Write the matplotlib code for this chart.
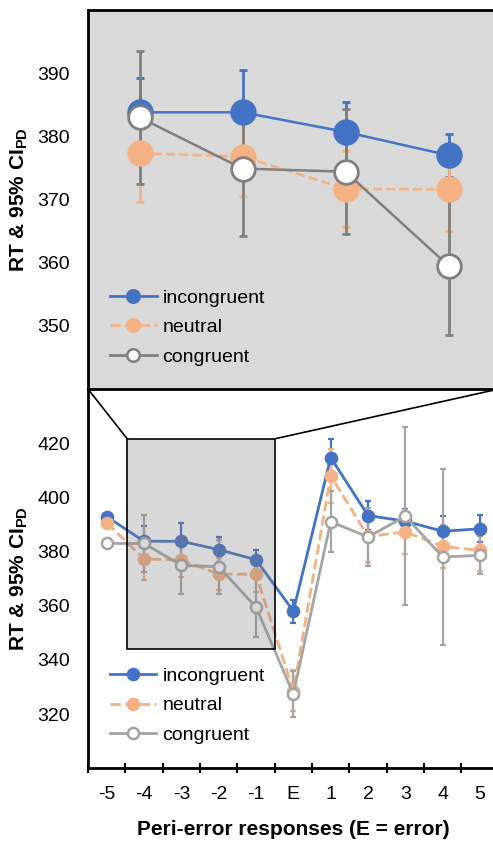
import matplotlib
matplotlib.use('Agg')
import matplotlib.pyplot as plt
from matplotlib.patches import Rectangle
from matplotlib.lines import Line2D
import numpy as np

plt.rcParams['font.family'] = ['Liberation Sans', 'DejaVu Sans']
plt.rcParams['mathtext.fontset'] = 'custom'
plt.rcParams['mathtext.rm'] = 'Liberation Sans'
plt.rcParams['mathtext.bf'] = 'Liberation Sans:bold'

# Peri-error positions
labels = ['-5', '-4', '-3', '-2', '-1', 'E', '1', '2', '3', '4', '5']

# mean RT per condition
incongruent = [392.9, 383.8, 383.8, 380.7, 377.0, 358.0, 414.7, 393.3, 391.2, 387.5, 388.4]
neutral = [390.6, 377.3, 376.8, 371.7, 371.6, 328.6, 408.0, 385.6, 387.2, 381.9, 380.4]
congruent = [383.0, 383.0, 374.9, 374.4, 359.5, 327.4, 391.0, 385.4, 393.0, 378.0, 378.6]

# 95% CI half widths (no bars drawn at -5)
incongruent_ci = [0, 5.5, 6.7, 4.7, 3.4, 4.3, 7.0, 5.2, 4.5, 5.8, 5.0]
neutral_ci = [0, 7.7, 6.2, 6.0, 6.6, 7.6, 10.0, 9.4, 8.0, 8.0, 7.4]
congruent_ci = [0, 10.5, 10.6, 9.9, 11.0, 8.6, 11.2, 10.8, 32.9, 32.6, 7.0]

blue = '#4472C4'
orange = '#F4B183'
grey_dark = '#7F7F7F'
grey_light = '#A5A5A5'

W, H = 493, 843
fig = plt.figure(figsize=(W / 100, H / 100), dpi=100)

# axes in pixel coordinates: left, right, top, bottom
def px_axes(l, r, t, b):
    return fig.add_axes([l / W, (H - b) / H, (r - l) / W, (b - t) / H])

def legend_handles(specs, ms):
    hs = []
    for name, y, ci, col, ls, face in specs:
        hs.append(Line2D([], [], ls=ls, color=col, lw=2, marker='o', markersize=ms,
                         markerfacecolor=face, markeredgecolor=col, markeredgewidth=1.8))
    return hs

ax_bot = px_axes(88, 498.7, 389, 768.3)
ax_top = px_axes(88, 500, 10, 389)

x = np.arange(len(labels))
series = [
    ('incongruent', incongruent, incongruent_ci, blue, '-', blue),
    ('neutral', neutral, neutral_ci, orange, '--', orange),
    ('congruent', congruent, congruent_ci, grey_light, '-', 'white'),
]

# ---- bottom panel: all responses ----
for name, y, ci, col, ls, face in series:
    ci = np.array(ci, dtype=float)
    ax_bot.errorbar(x, y, yerr=np.where(ci > 0, ci, np.nan), fmt='none',
                    ecolor=col, elinewidth=1.6, capsize=2.4, capthick=1.6, zorder=2)
    ax_bot.plot(x, y, ls=ls, color=col, lw=2, marker='o', markersize=8,
                markerfacecolor=face, markeredgecolor=col, markeredgewidth=1.8,
                zorder=3)

ax_bot.set_xlim(-0.5, 10.5)
ax_bot.set_ylim(300, 440)
ax_bot.set_yticks([320, 340, 360, 380, 400, 420])
ax_bot.set_xticks(x)
ax_bot.set_xticklabels(labels)
ax_bot.set_xticks(np.arange(-0.5, 10.6, 1), minor=True)
ax_bot.tick_params(axis='x', which='major', length=0, pad=13, labelsize=14)
ax_bot.tick_params(axis='x', which='minor', length=7, width=1.5, direction='inout')
ax_bot.tick_params(axis='y', length=0, pad=13, labelsize=14)
for s in ['top', 'right']:
    ax_bot.spines[s].set_visible(False)
for s in ['left', 'bottom']:
    ax_bot.spines[s].set_linewidth(2)
ax_bot.set_xlabel('Peri-error responses (E = error)', fontsize=15, fontweight='bold', labelpad=12)
ax_bot.set_ylabel(r'RT & 95% CI$_{\mathbf{PD}}$', fontsize=15, fontweight='bold', labelpad=5)

# zoomed region marker
rx0, rx1, ry0, ry1 = 0.55, 4.5, 344, 421.6
ax_bot.add_patch(Rectangle((rx0, ry0), rx1 - rx0, ry1 - ry0, facecolor='#7F7F7F',
                           alpha=0.3, edgecolor='none', zorder=4))
ax_bot.add_patch(Rectangle((rx0, ry0), rx1 - rx0, ry1 - ry0, facecolor='none',
                           edgecolor='black', lw=1.2, zorder=5))
ax_bot.plot([rx0, -0.5], [ry1, 440], color='black', lw=1.2, clip_on=False, zorder=5)
ax_bot.plot([rx1, 10.5], [ry1, 440], color='black', lw=1.2, clip_on=False, zorder=5)

ax_bot.legend(legend_handles(series, 8), [s[0] for s in series], loc='lower left',
              bbox_to_anchor=(0.02, 0.028), frameon=False, fontsize=14,
              handlelength=2.4, handletextpad=0.3, labelspacing=0.62, borderaxespad=0.3)

# ---- top panel: zoom on -4 .. -1 ----
sl = slice(1, 5)
top_series = [
    ('incongruent', incongruent, incongruent_ci, blue, '-', blue),
    ('neutral', neutral, neutral_ci, orange, '--', orange),
    ('congruent', congruent, congruent_ci, grey_dark, '-', 'white'),
]
for name, y, ci, col, ls, face in top_series:
    ax_top.errorbar(x[sl], y[sl], yerr=ci[sl], fmt='none', ecolor=col,
                    elinewidth=2, capsize=3, capthick=2, zorder=2)
    ax_top.plot(x[sl], y[sl], ls=ls, color=col, lw=1.8, marker='o', markersize=17,
                markerfacecolor=face, markeredgecolor=col, markeredgewidth=2,
                zorder=3)

ax_top.set_facecolor('#D9D9D9')
ax_top.set_xlim(0.5, 4.5)
ax_top.set_ylim(340, 400)
ax_top.set_yticks([350, 360, 370, 380, 390])
ax_top.set_xticks([])
ax_top.tick_params(axis='y', length=0, pad=13, labelsize=14)
for s in ax_top.spines.values():
    s.set_linewidth(2)
ax_top.set_ylabel(r'RT & 95% CI$_{\mathbf{PD}}$', fontsize=15, fontweight='bold', labelpad=5)

ax_top.legend(legend_handles(top_series, 9), [s[0] for s in top_series], loc='lower left',
              bbox_to_anchor=(0.02, 0.025), frameon=False, fontsize=14,
              handlelength=2.4, handletextpad=0.3, labelspacing=0.62, borderaxespad=0.3)

fig.savefig('out.png', dpi=100)
